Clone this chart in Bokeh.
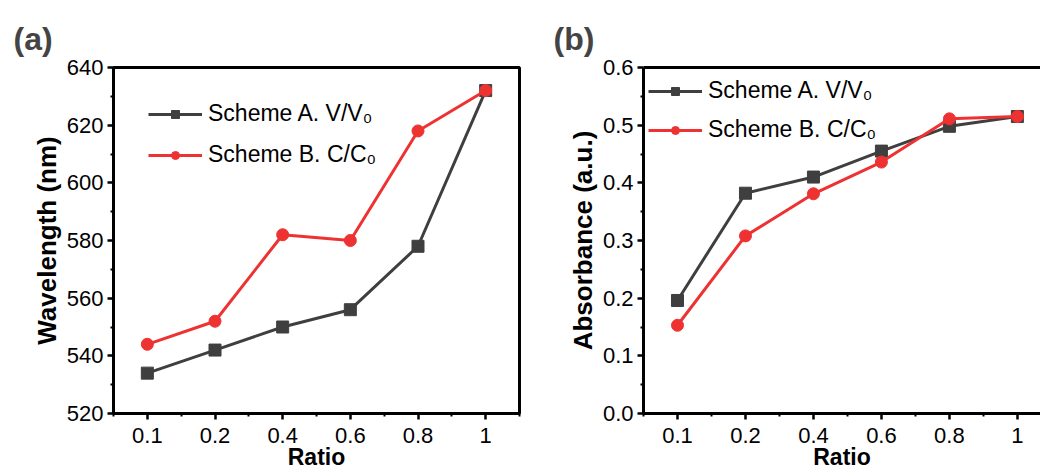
from bokeh.plotting import figure
from bokeh.layouts import row
from bokeh.models import (Range1d, FixedTicker, LinearAxis, Legend, LegendItem,
                          PrintfTickFormatter)
from bokeh.embed import file_html
from bokeh.resources import INLINE

# ---- data ----
ratio_labels = ["0.1", "0.2", "0.4", "0.6", "0.8", "1"]
wave_scheme_a = [534, 542, 550, 556, 578, 632]
wave_scheme_b = [544, 552, 582, 580, 618, 632]
abs_scheme_a = [0.196, 0.382, 0.410, 0.455, 0.498, 0.515]
abs_scheme_b = [0.153, 0.308, 0.381, 0.436, 0.511, 0.515]
wave_ticks = [520, 540, 560, 580, 600, 620, 640]
abs_ticks = [0.0, 0.1, 0.2, 0.3, 0.4, 0.5, 0.6]
label_a = "Scheme A. V/V\u2080"
label_b = "Scheme B. C/C\u2080"

GRAY = "#3f3f3f"
RED = "#ee3232"
FONT = "Liberation Sans"

xpos = list(range(len(ratio_labels)))
overrides = {i: lab for i, lab in enumerate(ratio_labels)}


def style_axes(p, yticks, yminor, ylabel):
    p.xgrid.visible = False
    p.ygrid.visible = False
    p.background_fill_color = "white"
    p.border_fill_color = "white"
    xa = p.xaxis[0]
    xa.ticker = FixedTicker(ticks=xpos, minor_ticks=[i + 0.5 for i in range(-1, len(xpos))])
    xa.major_label_overrides = overrides
    ya = p.yaxis[0]
    ya.ticker = FixedTicker(ticks=yticks, minor_ticks=yminor)
    for ax in (xa, ya):
        ax.axis_line_width = 3
        ax.axis_line_color = "black"
        ax.major_tick_line_width = 2.5
        ax.minor_tick_line_width = 2
        ax.major_tick_out = 6
        ax.major_tick_in = 0
        ax.minor_tick_out = 3
        ax.minor_tick_in = 0
        ax.major_label_text_font = FONT
        ax.major_label_text_font_size = "22px"
        ax.major_label_text_color = "black"
        ax.axis_label_text_font = FONT
        ax.axis_label_text_font_style = "bold"
        ax.axis_label_text_color = "black"
    xa.axis_label = "Ratio"
    xa.axis_label_text_font_size = "23px"
    xa.major_label_standoff = 8
    xa.axis_label_standoff = -2
    ya.axis_label = ylabel
    ya.axis_label_text_font_size = "26px"
    ya.major_label_standoff = 4
    ya.axis_label_standoff = 2


def add_series(p, ya_vals, yb_vals, loc, spacing):
    la = p.line(xpos, ya_vals, line_color=GRAY, line_width=3)
    sa = p.scatter(xpos, ya_vals, marker="square", size=12, fill_color=GRAY, line_color=GRAY)
    lb = p.line(xpos, yb_vals, line_color=RED, line_width=3)
    sb = p.scatter(xpos, yb_vals, marker="circle", size=12, fill_color=RED, line_color=RED)
    leg = Legend(items=[LegendItem(label=label_a, renderers=[la, sa]),
                        LegendItem(label=label_b, renderers=[lb, sb])],
                 location=loc, padding=0, margin=0, spacing=spacing,
                 glyph_width=54, glyph_height=20, label_height=20, label_standoff=6,
                 label_text_font=FONT, label_text_font_size="23px",
                 label_text_color="black", border_line_color=None,
                 background_fill_alpha=0)
    p.add_layout(leg, "center")


def style_title(p, text, offset):
    p.title.text = text
    p.title.text_font = FONT
    p.title.text_font_size = "32px"
    p.title.text_font_style = "bold"
    p.title.align = "left"
    p.title.offset = offset
    p.title.standoff = 21


H = 472
# ---- panel (a) ----
p1 = figure(width=533, height=H, output_backend="svg", toolbar_location=None,
            x_range=Range1d(-0.5, 5.5), y_range=Range1d(520, 640),
            min_border_left=113, min_border_right=14, min_border_top=67,
            min_border_bottom=59)
p1.outline_line_color = "black"
p1.outline_line_width = 3
p1.outline_line_alpha = 1
style_axes(p1, wave_ticks, [530, 550, 570, 590, 610, 630], "Wavelength (nm)")
add_series(p1, wave_scheme_a, wave_scheme_b, (35, 245), 14)
style_title(p1, "(a)", -100)

# ---- panel (b) ----
p2 = figure(width=507, height=H, output_backend="svg", toolbar_location=None,
            x_range=Range1d(-0.5, 5.34), y_range=Range1d(0, 0.6),
            min_border_left=110, min_border_right=0, min_border_top=67,
            min_border_bottom=59)
p2.outline_line_color = None
style_axes(p2, abs_ticks, [0.05, 0.15, 0.25, 0.35, 0.45, 0.55], "Absorbance (a.u.)")
p2.yaxis[0].formatter = PrintfTickFormatter(format="%.1f")
top_axis = LinearAxis(ticker=FixedTicker(ticks=[]), axis_line_width=3,
                      axis_line_color="black", major_tick_line_color=None,
                      minor_tick_line_color=None, major_label_text_alpha=0)
p2.add_layout(top_axis, "above")
add_series(p2, abs_scheme_a, abs_scheme_b, (5, 270), 12)
style_title(p2, "(b)", -90)

layout = row(p1, p2, spacing=0)
open("out.html", "w").write(file_html(layout, INLINE))
